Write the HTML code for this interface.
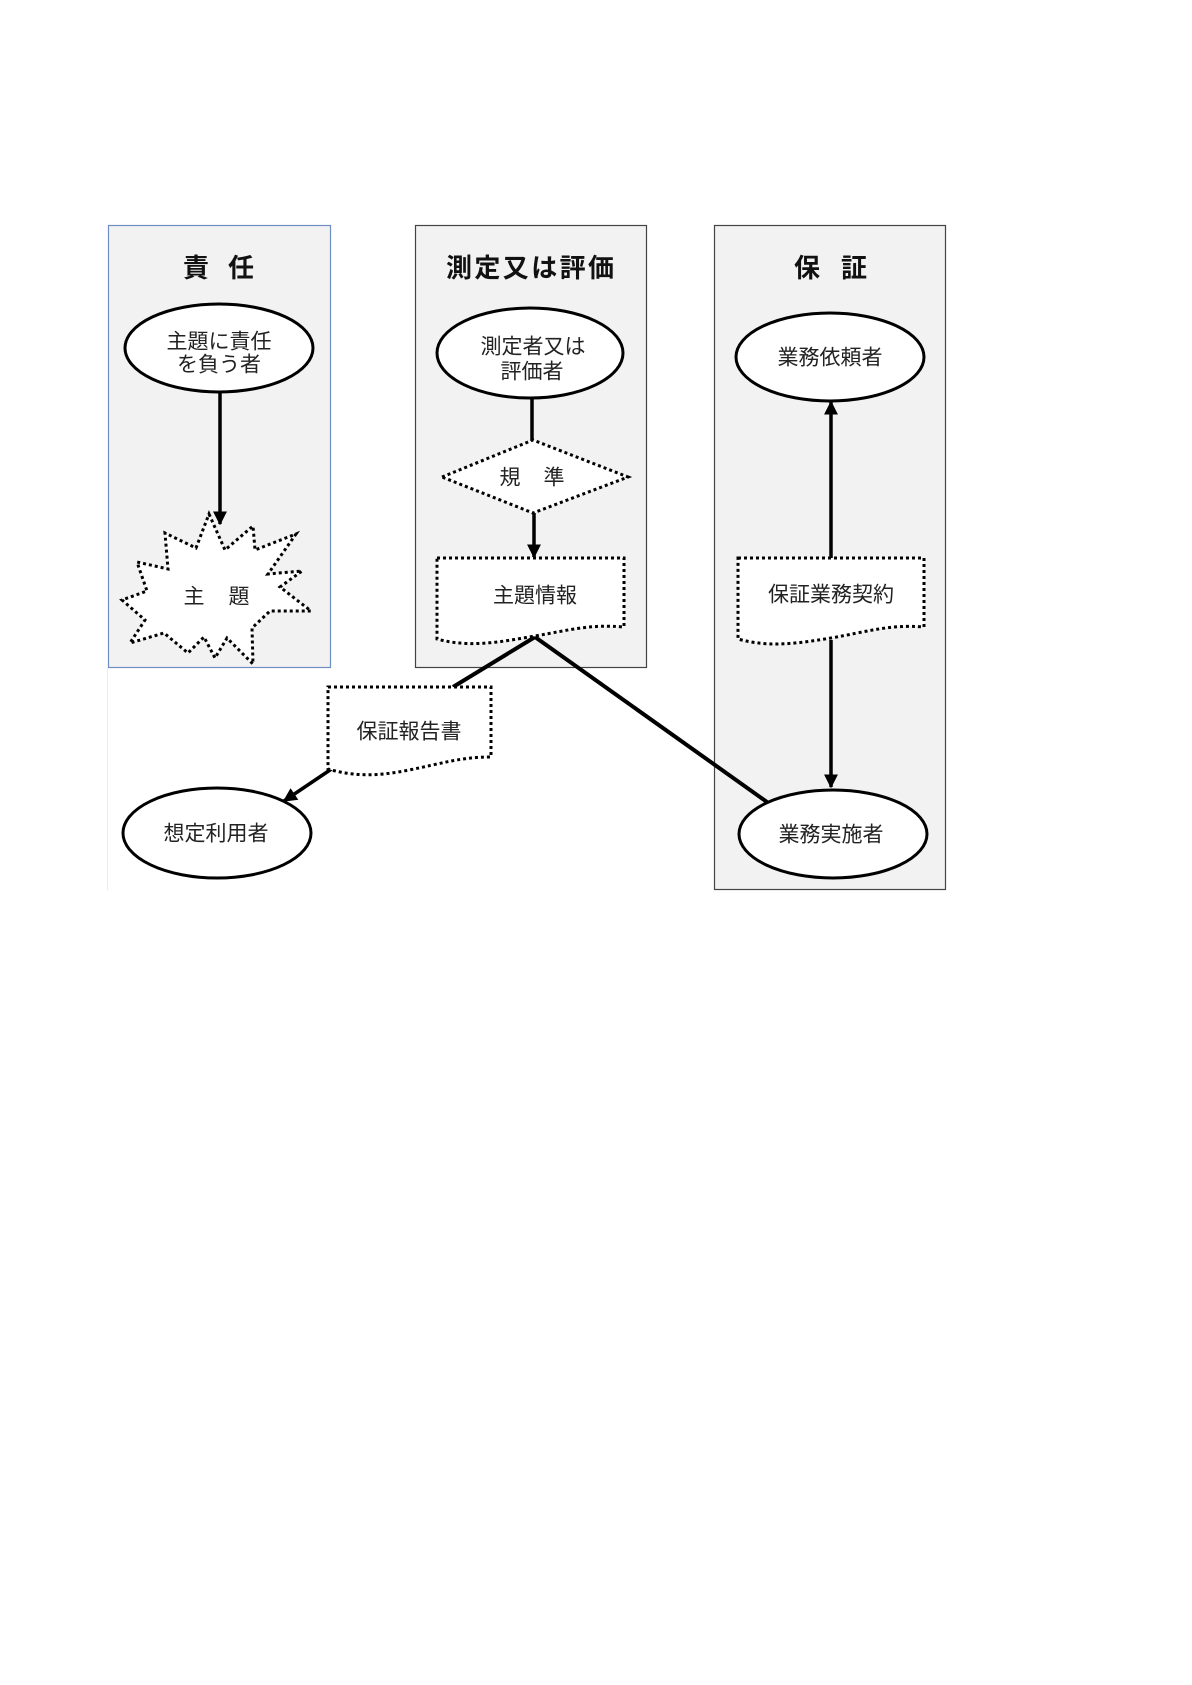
<!DOCTYPE html>
<html><head><meta charset="utf-8">
<style>
html,body{margin:0;padding:0;background:#fff;}
svg{display:block;}
text{font-family:"Liberation Sans","Noto Sans CJK JP",sans-serif;}
.t{font-size:26px;font-weight:bold;fill:#111;}
.n{font-size:21px;fill:#222;}
</style></head>
<body>
<svg width="1192" height="1685" viewBox="0 0 1192 1685" xmlns="http://www.w3.org/2000/svg">
<defs>
<marker id="ah" markerWidth="4" markerHeight="4" refX="3.6" refY="2" orient="auto" markerUnits="strokeWidth">
<path d="M0,0 L4,2 L0,4 z" fill="#000"/>
</marker>
</defs>
<!-- faint outer edge -->
<line x1="107.5" y1="668" x2="107.5" y2="890" stroke="#ececec" stroke-width="1"/>
<!-- panels -->
<rect x="108.5" y="225.5" width="222" height="442" fill="#f2f2f2" stroke="#6f8fc4" stroke-width="1.2"/>
<rect x="415.5" y="225.5" width="231" height="442" fill="#f2f2f2" stroke="#444" stroke-width="1.2"/>
<rect x="714.5" y="225.5" width="231" height="664" fill="#f2f2f2" stroke="#444" stroke-width="1.2"/>

<!-- titles -->
<text class="t" x="196" y="268" text-anchor="middle" dominant-baseline="central">責</text>
<text class="t" x="241" y="268" text-anchor="middle" dominant-baseline="central">任</text>
<text class="t" x="530" y="268" text-anchor="middle" dominant-baseline="central" textLength="168" lengthAdjust="spacing">測定又は評価</text>
<text class="t" x="807" y="268" text-anchor="middle" dominant-baseline="central">保</text>
<text class="t" x="854" y="268" text-anchor="middle" dominant-baseline="central">証</text>

<!-- connectors -->
<line x1="220" y1="393" x2="220" y2="524" stroke="#000" stroke-width="3.5" marker-end="url(#ah)"/>
<line x1="532" y1="398" x2="532" y2="441" stroke="#000" stroke-width="3.5"/>
<line x1="534" y1="513" x2="534" y2="557" stroke="#000" stroke-width="3.5" marker-end="url(#ah)"/>
<line x1="831" y1="558" x2="831" y2="402" stroke="#000" stroke-width="3.5" marker-end="url(#ah)"/>
<line x1="831" y1="640" x2="831" y2="787" stroke="#000" stroke-width="3.5" marker-end="url(#ah)"/>
<line x1="535" y1="637" x2="453" y2="687" stroke="#000" stroke-width="4"/>
<line x1="535" y1="637" x2="767" y2="802" stroke="#000" stroke-width="4"/>
<line x1="333" y1="768" x2="284" y2="801" stroke="#000" stroke-width="3.5" marker-end="url(#ah)"/>

<!-- ellipses -->
<ellipse cx="219" cy="348" rx="94" ry="44" fill="#fff" stroke="#000" stroke-width="3"/>
<ellipse cx="530" cy="353" rx="93" ry="45" fill="#fff" stroke="#000" stroke-width="3"/>
<ellipse cx="830" cy="357" rx="94" ry="44" fill="#fff" stroke="#000" stroke-width="3"/>
<ellipse cx="833" cy="834" rx="94" ry="44" fill="#fff" stroke="#000" stroke-width="3"/>
<ellipse cx="217" cy="833" rx="94" ry="45" fill="#fff" stroke="#000" stroke-width="3"/>

<!-- starburst -->
<polygon points="209,514 225,550 253,526 255,550 296,534 268,574 302,571 280,587 311,611 270,611 252,628 253,664 227,638 215,658 204,637 188,653 164,633 130,643 145,620 122,600 147,591 137,562 168,569 165,533 196,548"
 fill="#fff" stroke="#000" stroke-width="3" stroke-dasharray="3 3" stroke-linejoin="miter"/>

<!-- diamond -->
<polygon points="442,477 533,440 628,477 533,513" fill="#fff" stroke="#000" stroke-width="3" stroke-dasharray="3 3"/>

<!-- documents -->
<path d="M437,558 L624,558 L624,627 C590,624 570,630 535,636 C500,642 470,648 437,639 Z" fill="#fff" stroke="#000" stroke-width="3" stroke-dasharray="3 3"/>
<path d="M738,558 L924,558 L924,627 C890,624 866,632 831,638 C800,643 770,648 738,639 Z" fill="#fff" stroke="#000" stroke-width="3" stroke-dasharray="3 3"/>
<path d="M328,687 L491,687 L491,757 C460,757 440,764 409,770 C380,776 355,777 328,769 Z" fill="#fff" stroke="#000" stroke-width="3" stroke-dasharray="3 3"/>

<!-- node labels -->
<text class="n" x="219" y="342" text-anchor="middle" dominant-baseline="central">主題に責任</text>
<text class="n" x="219" y="365" text-anchor="middle" dominant-baseline="central">を負う者</text>
<text class="n" x="194" y="597" text-anchor="middle" dominant-baseline="central">主</text>
<text class="n" x="239" y="597" text-anchor="middle" dominant-baseline="central">題</text>
<text class="n" x="533" y="347" text-anchor="middle" dominant-baseline="central">測定者又は</text>
<text class="n" x="532" y="372" text-anchor="middle" dominant-baseline="central">評価者</text>
<text class="n" x="510" y="478" text-anchor="middle" dominant-baseline="central">規</text>
<text class="n" x="554" y="478" text-anchor="middle" dominant-baseline="central">準</text>
<text class="n" x="535" y="596" text-anchor="middle" dominant-baseline="central">主題情報</text>
<text class="n" x="830" y="358" text-anchor="middle" dominant-baseline="central">業務依頼者</text>
<text class="n" x="831" y="595" text-anchor="middle" dominant-baseline="central">保証業務契約</text>
<text class="n" x="831" y="835" text-anchor="middle" dominant-baseline="central">業務実施者</text>
<text class="n" x="409" y="732" text-anchor="middle" dominant-baseline="central">保証報告書</text>
<text class="n" x="216" y="834" text-anchor="middle" dominant-baseline="central">想定利用者</text>
</svg>
</body></html>
